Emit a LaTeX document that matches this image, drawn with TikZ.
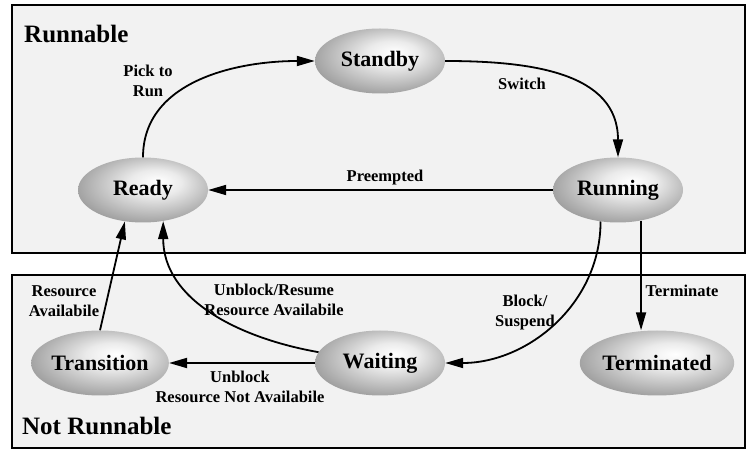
\documentclass[tikz,border=0pt]{standalone}
\usepackage{fontspec}
\setmainfont{Liberation Serif}
\usetikzlibrary{shapes.geometric,arrows.meta}
\pgfdeclareradialshading{stateshade}{\pgfpoint{6bp}{7bp}}{%
  color(0bp)=(white); color(10bp)=(black!8); color(33bp)=(black!44); color(50bp)=(black!50)}
\begin{document}
\begin{tikzpicture}[x=1pt,y=1pt,
  state/.style={ellipse, minimum width=130pt, minimum height=65pt, inner sep=0pt,
    shading=stateshade,
    font=\fontsize{22}{22}\selectfont\bfseries},
  lbl/.style={font=\fontsize{16.5}{20}\selectfont\bfseries, align=center, inner sep=0pt},
  title/.style={font=\fontsize{25}{25}\selectfont\bfseries, anchor=base west, inner sep=0pt},
  region/.style={draw=black, line width=1.2pt, fill=black!5},
  conn/.style={line width=1.8pt, -{Triangle[length=18pt,width=10pt]}}]
\useasboundingbox[fill=white] (0,0) rectangle (753,458);
% regions
\draw[region] (12,205) rectangle (745,453);
\draw[region] (12,10) rectangle (745,183);
\node[title] (trun) at (24,415) {Runnable};
\node[title] (tnot) at (22,23) {Not Runnable};
% states
\node[state] (Standby) at (380,397) {Standby};
\node[state] (Ready) at (143,268) {Ready};
\node[state] (Running) at (618,268) {Running};
\node[state] (Transition) at (100,95) {Transition};
\node[state] (Waiting) at (380,95) {Waiting};
\node[state, minimum width=122pt] (Terminated) at (657,95) {Terminated};
% connectors
\draw[conn] (Ready.north) to[out=90,in=180] (Standby.west);
\draw[conn] (Standby.east) to[out=0,in=90,looseness=1.1] (Running.north);
\draw[conn] (Running.west) -- (Ready.east);
\draw[conn] (Running.241) to[out=-90,in=0] (Waiting.east);
\draw[conn] (Running.307) -- (Running.307 |- Terminated.north);
\draw[conn] (Waiting.west) -- (Transition.east);
\draw[conn] (Waiting.170) to[out=170,in=-90] (Ready.303);
\draw[conn] (Transition.north) -- (Ready.240);
% labels
\node[lbl] (lpick) at (148,377) {Pick to\\Run};
\node[lbl] (lswitch) at (522,374) {Switch};
\node[lbl] (lpre) at (385,280) {Preempted};
\node[lbl] (lblock) at (525,145) {Block/\\Suspend};
\node[lbl] (lterm) at (682,167) {Terminate};
\node[lbl] (lres) at (64,157) {Resource\\Availabile};
\node[lbl] (lunres) at (274,158) {Unblock/Resume\\Resource Availabile};
\node[lbl] (lunblock) at (240,71) {Unblock\\Resource Not Availabile};
\end{tikzpicture}
\end{document}
